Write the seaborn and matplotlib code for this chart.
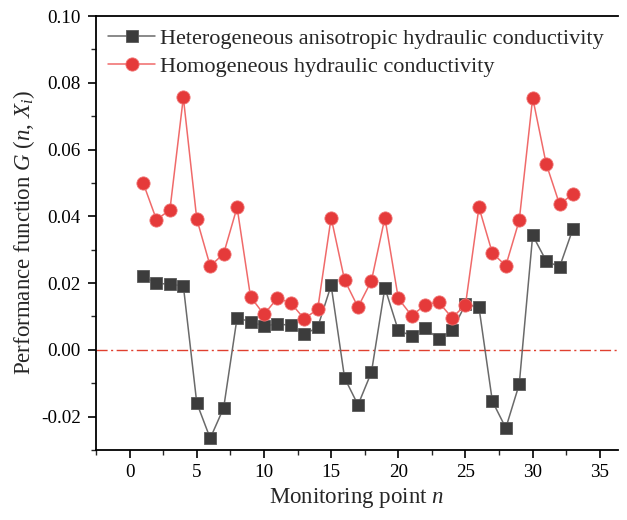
import numpy as np
import pandas as pd
import matplotlib
matplotlib.use("Agg")
import matplotlib.pyplot as plt
from matplotlib.ticker import MultipleLocator, FormatStrFormatter
import seaborn as sns

# Monitoring points and performance function values
points = list(range(1, 34))
hetero_aniso = [0.0220, 0.0200, 0.0196, 0.0192, -0.0159, -0.0265, -0.0174, 0.0096, 0.0084, 0.0071,
                0.0078, 0.0073, 0.0046, 0.0068, 0.0193, -0.0084, -0.0165, -0.0067, 0.0186, 0.0058,
                0.0042, 0.0066, 0.0032, 0.0058, 0.0136, 0.0128, -0.0154, -0.0234, -0.0103, 0.0343,
                0.0267, 0.0248, 0.0363]
homogeneous = [0.0501, 0.0390, 0.0419, 0.0756, 0.0392, 0.0251, 0.0288, 0.0427, 0.0159, 0.0106,
               0.0155, 0.0140, 0.0093, 0.0122, 0.0396, 0.0209, 0.0128, 0.0207, 0.0396, 0.0154,
               0.0102, 0.0135, 0.0143, 0.0096, 0.0135, 0.0427, 0.0290, 0.0252, 0.0388, 0.0755,
               0.0558, 0.0436, 0.0467]
series_names = ["Heterogeneous anisotropic hydraulic conductivity",
                "Homogeneous hydraulic conductivity"]
xticks = [0, 5, 10, 15, 20, 25, 30, 35]
yticks = [-0.02, 0.00, 0.02, 0.04, 0.06, 0.08, 0.10]

df = pd.DataFrame({"n": points, "hetero": hetero_aniso, "homo": homogeneous})

sns.set_theme(style="ticks")
plt.rcParams["font.family"] = ["Liberation Serif", "DejaVu Serif"]
plt.rcParams["mathtext.fontset"] = "custom"
plt.rcParams["mathtext.rm"] = "Liberation Serif"
plt.rcParams["mathtext.it"] = "Liberation Serif:italic"
plt.rcParams["axes.unicode_minus"] = False

fig = plt.figure(figsize=(6.27, 5.20), dpi=100)
ax = fig.add_axes([96 / 627, 1 - 450 / 520, (618 - 96) / 627, (450 - 16) / 520])

ax.axhline(0.0, color="#e0402f", lw=1.0, ls=(0, (8, 2.5, 1.5, 2.5)), zorder=1)

sns.lineplot(data=df, x="n", y="hetero", ax=ax, color="#6a6a6a", lw=1.1,
             marker="s", markersize=8, markerfacecolor="#3c3c3c",
             markeredgecolor="#5a5a5a", markeredgewidth=0.6,
             label=series_names[0], zorder=3)
sns.lineplot(data=df, x="n", y="homo", ax=ax, color="#f06a6a", lw=1.1,
             marker="o", markersize=9.5, markerfacecolor="#e53a3a",
             markeredgecolor="#f07070", markeredgewidth=0.6,
             label=series_names[1], zorder=4)

ax.set_xlim(-2.5, 36.35)
ax.set_ylim(-0.03, 0.10)
ax.set_xticks(xticks)
ax.set_yticks(yticks)
ax.xaxis.set_minor_locator(MultipleLocator(2.5))
ax.yaxis.set_minor_locator(MultipleLocator(0.01))
ax.yaxis.set_major_formatter(FormatStrFormatter("%.2f"))

for side in ["left", "bottom", "top"]:
    ax.spines[side].set_color("black")
    ax.spines[side].set_linewidth(1.3)
ax.spines["right"].set_visible(False)

ax.tick_params(axis="both", which="major", direction="out", length=6, width=1.2,
               labelsize=13.8, colors="black", top=False, right=False)
ax.tick_params(axis="x", which="major", pad=4)
ax.tick_params(axis="y", which="major", pad=5)
ax.tick_params(axis="both", which="minor", direction="out", length=3.5, width=1.0,
               top=False, right=False)

ax.set_xlabel(r"Monitoring point $n$", fontsize=16.5, labelpad=4)
ax.set_ylabel(r"Performance function $G$ ($n$, $X_i$)", fontsize=16.5, labelpad=3)

leg = ax.legend(loc="upper left", frameon=False, fontsize=16, handlelength=2.1,
                handletextpad=0.25, borderaxespad=0.1, labelspacing=0.35,
                borderpad=0.45, bbox_to_anchor=(0.0, 1.0))

fig.savefig("out.png", dpi=100)
